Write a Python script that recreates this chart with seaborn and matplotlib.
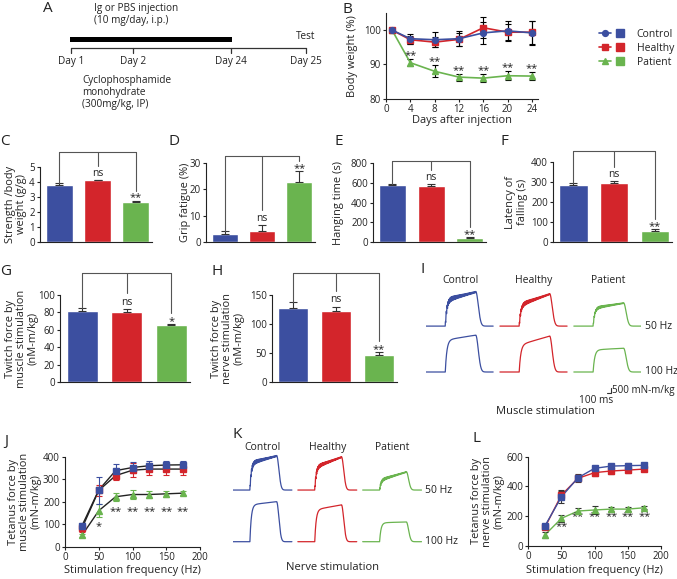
import matplotlib

matplotlib.use("Agg")
import matplotlib.pyplot as plt
import numpy as np
import pandas as pd
import seaborn as sns
from matplotlib.legend_handler import HandlerTuple
from matplotlib.lines import Line2D

ANCHO, ALTO = 677, 579

GRUPOS = ["Control", "Healthy", "Patient"]
COLORES = ["#3C4FA0", "#D3252B", "#6AB44F"]
MARCADORES_B = ["o", "s", "^"]
MARCADORES_F = ["s", "s", "^"]

# Panel A
A_DIAS = ["Day 1", "Day 2", "Day 24", "Day 25"]
A_INYECCION = "Ig or PBS injection\n(10 mg/day, i.p.)"
A_CICLO = "Cyclophosphamide\nmonohydrate\n(300mg/kg, IP)"

# Panel B: peso corporal
DIAS = [1, 4, 8, 12, 16, 20, 24]
PESO_CONTROL = [100, 97.5, 97.2, 97.5, 99.2, 99.8, 99.2]
PESO_CONTROL_ERR = [0.4, 1.5, 2.2, 2.2, 3.2, 3.0, 3.6]
PESO_HEALTHY = [100, 97.2, 96.5, 97.3, 100.7, 99.4, 99.4]
PESO_HEALTHY_ERR = [0.3, 1.2, 1.5, 2.0, 3.0, 2.4, 3.3]
PESO_PATIENT = [100, 90.5, 88.0, 86.3, 86.0, 86.7, 86.6]
PESO_PATIENT_ERR = [0.3, 1.0, 1.8, 1.0, 1.2, 1.3, 1.2]
PESO_MARCAS = ["", "**", "**", "**", "**", "**", "**"]

# Paneles C-H: barras
FUERZA = [3.82, 4.10, 2.66]
FUERZA_ERR = [0.10, 0.05, 0.10]
FATIGA = [3.2, 4.4, 23.0]
FATIGA_ERR = [1.2, 2.3, 4.0]
COLGADO = [580, 570, 45]
COLGADO_ERR = [8, 15, 10]
CAIDA = [285, 297, 58]
CAIDA_ERR = [10, 6, 8]
TWITCH_MUSCULO = [82, 81, 65]
TWITCH_MUSCULO_ERR = [2.5, 3.0, 2.0]
TWITCH_NERVIO = [128, 123, 47]
TWITCH_NERVIO_ERR = [10, 7, 5]

# Paneles J y L: fuerza tetanica
FRECUENCIAS = [25, 50, 75, 100, 125, 150, 175]
J_CONTROL = [92, 252, 338, 352, 360, 363, 364]
J_CONTROL_ERR = [15, 60, 30, 25, 20, 18, 15]
J_HEALTHY = [81, 250, 316, 340, 345, 345, 345]
J_HEALTHY_ERR = [15, 25, 20, 30, 28, 25, 25]
J_PATIENT = [50, 160, 222, 232, 232, 235, 238]
J_PATIENT_ERR = [8, 28, 18, 18, 15, 12, 10]
J_MARCAS = ["", "*", "**", "**", "**", "**", "**"]

L_CONTROL = [134, 331, 459, 522, 537, 540, 542]
L_CONTROL_ERR = [10, 45, 25, 15, 15, 15, 15]
L_HEALTHY = [125, 343, 455, 493, 504, 510, 517]
L_HEALTHY_ERR = [10, 25, 25, 25, 20, 20, 15]
L_PATIENT = [74, 186, 235, 242, 248, 248, 257]
L_PATIENT_ERR = [20, 25, 20, 25, 15, 15, 10]
L_MARCAS = ["", "**", "**", "**", "**", "**", "**"]

# Paneles I y K: registros de fuerza (mN-m/kg)
I_50_INICIO = [2900, 2350, 2000]
I_50_FINAL = [3780, 3550, 2550]
I_100_INICIO = [3550, 3000, 2450]
I_100_FINAL = [4100, 4000, 2650]
I_RIZADO = [650, 550, 350]
K_50_INICIO = [3000, 2550, 1100]
K_50_FINAL = [3780, 3650, 2000]
K_100_INICIO = [4100, 3550, 2100]
K_100_FINAL = [4450, 4100, 2200]
K_RIZADO = [550, 500, 350]
FRECUENCIAS_TRAZO = ["50 Hz", "100 Hz"]

T = np.arange(0, 1500, 1.0)
T_INICIO, T_FIN = 430, 1110
SEPARACION_MS = 1650

GRIS = "#555555"


def configurar_estilo():
    sns.set_theme(style="ticks")
    plt.rcParams.update(
        {
            "font.family": ["Open Sans", "DejaVu Sans"],
            "font.size": 7.5,
            "axes.labelsize": 7.9,
            "xtick.labelsize": 7,
            "ytick.labelsize": 7,
            "axes.linewidth": 0.8,
            "axes.edgecolor": "#222222",
            "text.color": "#222222",
            "axes.labelcolor": "#222222",
            "xtick.color": "#222222",
            "ytick.color": "#222222",
            "xtick.major.width": 0.8,
            "ytick.major.width": 0.8,
            "xtick.major.size": 2.5,
            "ytick.major.size": 2.5,
            "xtick.major.pad": 1.2,
            "ytick.major.pad": 1.2,
        }
    )


def ejes(fig, x0, y0, x1, y1):
    ax = fig.add_axes([x0 / ANCHO, 1 - y1 / ALTO, (x1 - x0) / ANCHO, (y1 - y0) / ALTO])
    ax._px = (x0, y0, x1, y1)
    return ax


def etiquetas(ax, ylabel=None, y_derecha=None, xlabel=None, x_arriba=None):
    x0, y0, x1, y1 = ax._px
    if ylabel is not None:
        ax.set_ylabel(ylabel, linespacing=1.05)
        ax.yaxis.set_label_coords((y_derecha + 1.5 - x0) / (x1 - x0), 0.5)
    if xlabel is not None:
        ax.set_xlabel(xlabel)
        ax.xaxis.set_label_coords(0.5, -(x_arriba - y1) / (y1 - y0))


def letra(fig, texto, x, y):
    fig.text(x / ANCHO, 1 - y / ALTO, texto, fontsize=11, va="baseline", ha="left")


def panel_a(fig):
    ax = ejes(fig, 40, 0, 330, 110)
    ax.set_xlim(40, 330)
    ax.set_ylim(110, 0)
    ax.axis("off")
    ax.fill_between([70, 232], 36.7, 42.3, color="black", lw=0)
    ax.plot([71, 306], [47.7, 47.7], color="#333333", lw=0.9)
    for x, dia in zip([71, 133, 231, 306], A_DIAS):
        ax.plot([x, x], [47.7, 52.7], color="#333333", lw=0.9)
        ax.text(x, 61.7, dia, ha="center", va="center", fontsize=7.2)
    ax.text(306, 36.5, "Test", ha="center", va="center", fontsize=7.2)
    ax.text(94, 2.5, A_INYECCION, ha="left", va="top", fontsize=7.2, linespacing=1.2)
    ax.text(82, 75, A_CICLO, ha="left", va="top", fontsize=7.2, linespacing=1.15)


def panel_b(fig):
    ax = ejes(fig, 386, 13, 538, 98.7)
    series = [
        (PESO_PATIENT, PESO_PATIENT_ERR, 2),
        (PESO_HEALTHY, PESO_HEALTHY_ERR, 1),
        (PESO_CONTROL, PESO_CONTROL_ERR, 0),
    ]
    for valores, errores, i in series:
        ax.errorbar(DIAS, valores, yerr=errores, fmt="none", ecolor="black",
                    elinewidth=0.8, capsize=2.2, capthick=0.8, zorder=2)
        ax.plot(DIAS, valores, color=COLORES[i], marker=MARCADORES_B[i], ms=4.2,
                lw=1.2, zorder=3)
    for d, v, e, m in zip(DIAS, PESO_PATIENT, PESO_PATIENT_ERR, PESO_MARCAS):
        ax.text(d, v + e + 0.2, m, ha="center", va="baseline", fontsize=8)
    ax.set_xlim(0, 25)
    ax.set_ylim(80, 105)
    ax.set_xticks(range(0, 25, 4))
    ax.set_yticks([80, 90, 100])
    sns.despine(ax=ax)
    etiquetas(ax, "Body weight (%)", 357, "Days after injection", 114.5)

    manejadores = [
        (Line2D([], [], color=c, marker=m, ms=4.2, lw=1.2),
         Line2D([], [], color=c, marker="s", ms=5.5, ls="none"))
        for c, m in zip(COLORES, MARCADORES_B)
    ]
    fig.legend(
        manejadores, GRUPOS,
        handler_map={tuple: HandlerTuple(ndivide=None, pad=0.3)},
        loc="center left", bbox_to_anchor=(591 / ANCHO, 1 - 48.5 / ALTO),
        frameon=False, handlelength=2.5, handletextpad=1.1,
        labelspacing=0.3, fontsize=7.5, borderpad=0.3,
    )


def barras(ax, valores, errores, ylim, yticks, marcas, tope):
    df = pd.DataFrame({"grupo": GRUPOS, "valor": valores})
    sns.barplot(data=df, x="grupo", y="valor", hue="grupo", palette=COLORES,
                width=0.7, saturation=1, errorbar=None, legend=False, ax=ax)
    ax.errorbar(range(3), valores, yerr=[[0, 0, 0], errores], fmt="none",
                ecolor="#333333", elinewidth=0.8, capsize=3, capthick=0.8)
    alto = ylim[1]
    cimas = [v + e for v, e in zip(valores, errores)]
    y_br = tope * alto
    pies = [cimas[0], cimas[1] + 0.18 * alto, cimas[2] + 0.12 * alto]
    for i, pie in enumerate(pies):
        ax.plot([i, i], [pie, y_br], color=GRIS, lw=0.8, clip_on=False)
    ax.plot([0, 2], [y_br, y_br], color=GRIS, lw=0.8, clip_on=False)
    ax.text(1, cimas[1] + 0.05 * alto, marcas[0], ha="center", va="baseline", fontsize=7.5)
    ax.text(2, cimas[2], marcas[1], ha="center", va="baseline", fontsize=8)
    ax.set_xlim(-0.5, 2.42)
    ax.set_ylim(ylim)
    ax.set_yticks(yticks)
    ax.set_xticks([])
    ax.set_xlabel("")
    sns.despine(ax=ax)


def paneles_barras(fig):
    ax = ejes(fig, 40, 166.7, 152, 242.3)
    barras(ax, FUERZA, FUERZA_ERR, (0, 5), range(0, 6), ["ns", "**"], 1.19)
    etiquetas(ax, "Strength /body\nweight (g/g)", 26)

    ax = ejes(fig, 206, 163, 315, 242.3)
    barras(ax, FATIGA, FATIGA_ERR, (0, 30), [0, 10, 20, 30], ["ns", "**"], 1.087)
    etiquetas(ax, "Grip fatigue (%)", 189)

    ax = ejes(fig, 373, 163, 486, 242.3)
    barras(ax, COLGADO, COLGADO_ERR, (0, 800), range(0, 801, 200), ["ns", "**"], 1.025)
    etiquetas(ax, "Hanging time (s)", 343)

    ax = ejes(fig, 553, 162, 672, 242.3)
    barras(ax, CAIDA, CAIDA_ERR, (0, 400), range(0, 401, 100), ["ns", "**"], 1.14)
    etiquetas(ax, "Latency of\nfalling (s)", 526)

    ax = ejes(fig, 60, 295, 190, 382)
    barras(ax, TWITCH_MUSCULO, TWITCH_MUSCULO_ERR, (0, 100), range(0, 101, 20),
           ["ns", "*"], 1.25)
    etiquetas(ax, "Twitch force by\nmuscle stimulation\n(nM-m/kg)", 37)

    ax = ejes(fig, 272, 295, 397, 382)
    barras(ax, TWITCH_NERVIO, TWITCH_NERVIO_ERR, (0, 150), [0, 50, 100, 150],
           ["ns", "**"], 1.25)
    etiquetas(ax, "Twitch force by\nnerve stimulation\n(nM-m/kg)", 243)


def trazo(a0, a1, rizado):
    desde = np.clip(T - T_INICIO, 0, None)
    nivel = a0 + (a1 - a0) * np.clip(desde / (T_FIN - T_INICIO), 0, 1)
    subida = 1 - np.exp(-desde / 35)
    onda = rizado * np.exp(-desde / 450) * (np.abs(np.sin(np.pi * T / 20)) - 0.5)
    y = nivel * subida + onda
    y[T < T_INICIO] = 0
    pico = y[T < T_FIN][-1]
    caida = T >= T_FIN
    y[caida] = pico * np.exp(-(((T[caida] - T_FIN) / 80) ** 2))
    return y


def ejes_trazos(fig, x0_px, y0_px, px_ms, px_u, xlim, ylim):
    izq = x0_px + xlim[0] * px_ms
    der = x0_px + xlim[1] * px_ms
    abajo = y0_px - ylim[0] * px_u
    arriba = y0_px - ylim[1] * px_u
    ax = ejes(fig, izq, arriba, der, abajo)
    ax.set_xlim(xlim)
    ax.set_ylim(ylim)
    ax.axis("off")
    return ax


def registros(ax, filas, rizado, salto, y_titulo):
    for f, (inicios, finales) in enumerate(filas):
        base = salto * (1 - f)
        for g in range(3):
            riz = rizado[g] if f == 0 else 0
            ax.plot(T + g * SEPARACION_MS, trazo(inicios[g], finales[g], riz) + base,
                    color=COLORES[g], lw=0.9)
        ax.text(3 * SEPARACION_MS - 60, base, FRECUENCIAS_TRAZO[f], ha="left",
                va="center", fontsize=7.5)
    for g, nombre in enumerate(GRUPOS):
        ax.text(g * SEPARACION_MS + 760, y_titulo, nombre, ha="center",
                va="center", fontsize=7.5)


def paneles_trazos(fig):
    px_u = 0.009
    ax = ejes_trazos(fig, 426, 372, 0.0448, px_u, (0, 4800), (-2600, 9400))
    registros(ax, [(I_50_INICIO, I_50_FINAL), (I_100_INICIO, I_100_FINAL)],
              I_RIZADO, 5100, 10220)
    ax.plot([4030, 4130, 4130], [-2300, -2300, -1800], color="#333333", lw=0.8,
            clip_on=False)
    ax.text(4150, -2080, "500 mN-m/kg", ha="left", va="center", fontsize=7.1)
    ax.text(3800, -3150, "100 ms", ha="center", va="center", fontsize=7.3)
    fig.text(545 / ANCHO, 1 - 411 / ALTO, "Muscle stimulation", ha="center",
             va="center", fontsize=8)

    ax = ejes_trazos(fig, 233, 541.7, 0.0393, px_u, (0, 4800), (-300, 10400))
    registros(ax, [(K_50_INICIO, K_50_FINAL), (K_100_INICIO, K_100_FINAL)],
              K_RIZADO, 5740, 10520)
    fig.text(332 / ANCHO, 1 - 568 / ALTO, "Nerve stimulation", ha="center",
             va="center", fontsize=8)


def tetanos(ax, series, marcas, color_linea, color_error, y_marcas, ylim, yticks):
    for i in [2, 1, 0]:
        valores, errores = series[i]
        linea = COLORES[i] if color_linea is None else color_linea
        err = COLORES[i] if color_error is None else color_error
        ax.plot(FRECUENCIAS, valores, color=linea, lw=1.0, zorder=2)
        ax.errorbar(FRECUENCIAS, valores, yerr=errores, fmt="none", ecolor=err,
                    elinewidth=0.8, capsize=2, capthick=0.8, zorder=3)
        ax.plot(FRECUENCIAS, valores, ls="none", marker=MARCADORES_F[i], ms=3.8,
                color=COLORES[i], zorder=4)
    for k, (f, m) in enumerate(zip(FRECUENCIAS, marcas)):
        y = y_marcas[0] if k == 1 else y_marcas[1]
        ax.text(f, y * ylim[1], m, ha="center", va="baseline", fontsize=8)
    ax.set_xlim(0, 200)
    ax.set_ylim(ylim)
    ax.set_xticks(range(0, 201, 50))
    ax.set_yticks(yticks)
    sns.despine(ax=ax)


def paneles_tetanos(fig):
    ax = ejes(fig, 65, 456.7, 200, 546.7)
    tetanos(ax, [(J_CONTROL, J_CONTROL_ERR), (J_HEALTHY, J_HEALTHY_ERR),
                 (J_PATIENT, J_PATIENT_ERR)], J_MARCAS, "#222222", None,
            (0.2, 0.36), (0, 400), range(0, 401, 100))
    etiquetas(ax, "Tetanus force by\nmuscle stimulation\n(mN-m/kg)", 40,
              "Stimulation frequency (Hz)", 565.5)

    ax = ejes(fig, 528.3, 456.7, 661, 546)
    tetanos(ax, [(L_CONTROL, L_CONTROL_ERR), (L_HEALTHY, L_HEALTHY_ERR),
                 (L_PATIENT, L_PATIENT_ERR)], L_MARCAS, None, "#333333",
            (0.19, 0.305), (0, 600), range(0, 601, 200))
    etiquetas(ax, "Tetanus force by\nnerve stimulation\n(mN-m/kg)", 503,
              "Stimulation frequency (Hz)", 565.5)


def main():
    configurar_estilo()
    fig = plt.figure(figsize=(ANCHO / 100, ALTO / 100), dpi=100)
    panel_a(fig)
    panel_b(fig)
    paneles_barras(fig)
    paneles_trazos(fig)
    paneles_tetanos(fig)
    for texto, x, y in [("A", 43, 11.7), ("B", 343, 13), ("C", 0, 145),
                        ("D", 168, 145), ("E", 334, 145), ("F", 500, 145),
                        ("G", 0, 275), ("H", 212, 275), ("I", 420, 273),
                        ("J", 4, 445), ("K", 233, 438), ("L", 473, 442)]:
        letra(fig, texto, x, y)
    fig.savefig("out.png", dpi=100)


main()
